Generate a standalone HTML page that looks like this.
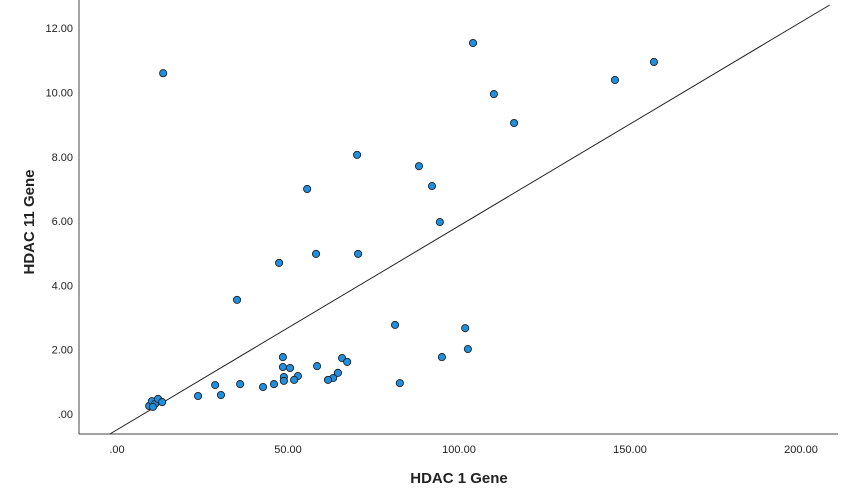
<!DOCTYPE html>
<html><head><meta charset="utf-8"><style>
html,body{margin:0;padding:0;background:#fff;}
svg{display:block;font-family:"Liberation Sans",Arial,sans-serif;}
</style></head><body>
<svg id="chart" width="849" height="499" viewBox="0 0 849 499">
<g id="axes"></g><g id="fit"></g><g id="pts"></g>
</svg>
<script>
const xValues=[13.5,104.1,110.2,116.1,145.6,157.0,70.2,88.3,92.1,55.6,94.4,58.2,70.5,47.4,35.1,81.3,101.8,102.6,95.0,82.7,48.5,48.5,50.6,58.5,65.8,67.3,64.6,63.2,61.7,52.9,51.8,48.8,48.8,45.9,42.7,36.0,28.7,30.4,23.7,9.4,10.2,11.1,12.0,13.2,10.5];
const yValues=[10.6,11.54,9.95,9.05,10.39,10.95,8.06,7.71,7.09,7.0,5.97,4.98,4.98,4.70,3.55,2.77,2.67,2.02,1.77,0.96,1.77,1.46,1.43,1.49,1.74,1.62,1.28,1.12,1.06,1.18,1.06,1.15,1.03,0.93,0.84,0.93,0.90,0.59,0.56,0.25,0.40,0.31,0.47,0.37,0.22];
const xTicks=[0,50,100,150,200];
const xTickLabels=[".00","50.00","100.00","150.00","200.00"];
const yTicks=[0,2,4,6,8,10,12];
const yTickLabels=[".00","2.00","4.00","6.00","8.00","10.00","12.00"];
const fitSlope=[0.0634];
const fitIntercept=[-0.49];
const NS="http://www.w3.org/2000/svg";
const L=79,R=838,T=0,B=434;
const sx=v=>117+v*3.42;
const sy=v=>414-v*32.15;
function mk(tag,attrs,parent){const e=document.createElementNS(NS,tag);for(const k in attrs)e.setAttribute(k,attrs[k]);parent.appendChild(e);return e;}
const ax=document.getElementById('axes');
let a=mk('line',{x1:L,y1:T,x2:L,y2:B,stroke:'#444','stroke-width':1},ax);


a=mk('line',{x1:L,y1:B,x2:R,y2:B,stroke:'#444','stroke-width':1},ax);


xTicks.forEach((v,i)=>{const t=mk('text',{x:sx(v),y:453,'text-anchor':'middle','font-size':11,fill:'#222'},ax);t.textContent=xTickLabels[i];

});
yTicks.forEach((v,i)=>{const t=mk('text',{x:73,y:sy(v)+4,'text-anchor':'end','font-size':11,fill:'#222'},ax);t.textContent=yTickLabels[i];

});
let t=mk('text',{x:459,y:483,'text-anchor':'middle','font-size':15,'font-weight':'bold',fill:'#222'},ax);t.textContent='HDAC 1 Gene';


t=mk('text',{x:34,y:222,'text-anchor':'middle','font-size':15,'font-weight':'bold',fill:'#222',transform:'rotate(-90 34 222)'},ax);t.textContent='HDAC 11 Gene';


// fit line clipped to plot
const m=fitSlope[0],c=fitIntercept[0];
const yBot=(414-B)/32.15, yTop=(414-5)/32.15;
let x0=(yBot-c)/m, x1=(yTop-c)/m;
const fl=mk('line',{x1:sx(x0),y1:sy(m*x0+c),x2:sx(x1),y2:sy(m*x1+c),stroke:'#222','stroke-width':1},document.getElementById('fit'));


const pg=document.getElementById('pts');
xValues.forEach((v,i)=>{const p=mk('circle',{cx:sx(v),cy:sy(yValues[i]),r:3.6,fill:'#1f8fe0',stroke:'#222','stroke-width':0.9},pg);

});
</script>
</body></html>
